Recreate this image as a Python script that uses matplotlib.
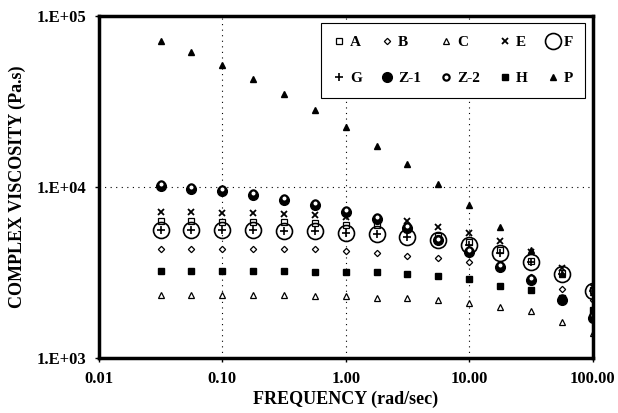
import matplotlib
matplotlib.use("Agg")
import matplotlib.pyplot as plt
from matplotlib.ticker import FixedLocator, FixedFormatter, NullLocator

plt.rcParams["font.family"] = ["Liberation Serif", "DejaVu Serif"]
plt.rcParams["font.weight"] = "bold"

# frequency (rad/sec)
freq = [0.0316, 0.0562, 0.1, 0.178, 0.316, 0.562, 1.0, 1.78, 3.16, 5.62,
        10.0, 17.8, 31.6, 56.2, 100.0]

# complex viscosity (Pa.s)
visc_A = [6300, 6300, 6250, 6250, 6250, 6200, 6000, 6000, 5700, 5200, 4800, 4300, 3700, 3150, 2500]
visc_B = [4350, 4350, 4350, 4350, 4350, 4350, 4250, 4100, 3960, 3870, 3650, 3350, 2970, 2520, 2180]
visc_C = [2340, 2340, 2340, 2340, 2340, 2300, 2300, 2260, 2250, 2180, 2100, 1980, 1880, 1620, 1400]
visc_E = [7150, 7150, 7100, 7100, 7000, 6900, 6680, 6500, 6320, 5830, 5370, 4820, 4200, 3380, 2600]
visc_F = [5610, 5610, 5610, 5610, 5550, 5550, 5370, 5290, 5100, 4900, 4600, 4100, 3640, 3100, 2470]
visc_G = [5610, 5610, 5610, 5610, 5550, 5550, 5370, 5290, 5100, 4900, 4600, 4100, 3640, 3100, 2470]
visc_Z1 = [10100, 9700, 9500, 8950, 8390, 7840, 7150, 6540, 5750, 4900, 4180, 3420, 2860, 2200, 1720]
visc_Z2 = [10400, 10000, 9750, 9200, 8600, 8050, 7350, 6700, 5900, 5000, 4280, 3500, 2930, 2260, 1780]
visc_H = [3240, 3240, 3240, 3240, 3240, 3200, 3200, 3200, 3120, 3000, 2900, 2650, 2500, 2250, 1900]
visc_P = [72000, 61600, 51600, 42800, 35000, 28200, 22500, 17400, 13600, 10400, 7850, 5830, 4290, 3100, 2430]

fig = plt.figure(figsize=(6.18, 4.13), dpi=100)
ax = fig.add_axes([0.160, 0.133, 0.799, 0.828])

k = dict(linestyle="none", color="black")
hA, = ax.plot(freq, visc_A, marker="s", ms=4, mfc="white", mew=0.9, label="A", **k)
hB, = ax.plot(freq, visc_B, marker="D", ms=3.2, mfc="white", mew=0.9, label="B", **k)
hC, = ax.plot(freq, visc_C, marker="^", ms=4, mfc="white", mew=0.9, label="C", **k)
hE, = ax.plot(freq, visc_E, marker="x", ms=4.5, mew=1.3, label="E", **k)
hF, = ax.plot(freq, visc_F, marker="o", ms=11.5, mfc="none", mew=1.2, label="F", **k)
hG, = ax.plot(freq, visc_G, marker="+", ms=6, mew=1.2, label="G", **k)
hZ1, = ax.plot(freq, visc_Z1, marker="o", ms=7, mfc="black", label="Z-1", **k)
hZ2, = ax.plot(freq, visc_Z2, marker="o", ms=4.5, mfc="white", mew=1.6, label="Z-2", **k)
hH, = ax.plot(freq, visc_H, marker="s", ms=4.5, mfc="black", label="H", **k)
hP, = ax.plot(freq, visc_P, marker="^", ms=5, mfc="black", label="P", **k)

ax.set_xscale("log")
ax.set_yscale("log")
ax.set_xlim(0.01, 100)
ax.set_ylim(1e3, 1e5)

xt = [0.01, 0.1, 1, 10, 100]
yt = [1e3, 1e4, 1e5]
ax.xaxis.set_major_locator(FixedLocator(xt))
ax.xaxis.set_major_formatter(FixedFormatter(["0.01", "0.10", "1.00", "10.00", "100.00"]))
ax.yaxis.set_major_locator(FixedLocator(yt))
ax.yaxis.set_major_formatter(FixedFormatter(["1.E+03", "1.E+04", "1.E+05"]))
ax.xaxis.set_minor_locator(NullLocator())
ax.yaxis.set_minor_locator(NullLocator())
ax.tick_params(direction="out", length=3, width=1, labelsize=12, pad=6)

ax.grid(True, which="major", color="black", linestyle=(0, (1, 4)), linewidth=0.8)
for s in ax.spines.values():
    s.set_linewidth(2.5)

ax.set_xlabel("FREQUENCY (rad/sec)", fontsize=13, fontweight="bold", labelpad=3)
ax.set_ylabel("COMPLEX VISCOSITY (Pa.s)", fontsize=13, fontweight="bold", labelpad=8)

# matplotlib fills legend column-wise, so interleave the two rows
handles = [hA, hG, hB, hZ1, hC, hZ2, hE, hH, hF, hP]
leg = ax.legend(handles=handles, ncol=5, loc="upper right",
                bbox_to_anchor=(0.984, 0.98), borderaxespad=0,
                fancybox=False, framealpha=1, edgecolor="black",
                handlelength=0.8, handletextpad=0.3, columnspacing=1.25,
                labelspacing=1.5, borderpad=0.8,
                prop={"weight": "bold", "size": 11})
leg.get_frame().set_linewidth(0.8)

fig.savefig("out.png", dpi=100)
